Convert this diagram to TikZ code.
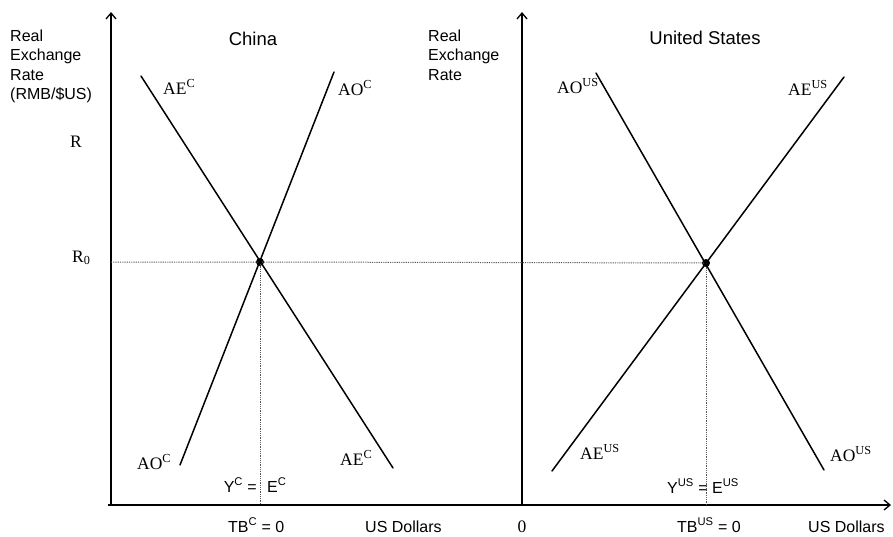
\documentclass[tikz,border=0pt]{standalone}
\usepackage{fontspec}
\setmainfont{Liberation Serif}
\newfontfamily\arialf{Liberation Sans}
\usetikzlibrary{arrows.meta}
\begin{document}
\begin{tikzpicture}[x=1pt,y=-1pt,
  curve/.style={line width=1.5pt,line cap=round},
  axis/.style={line width=1.5pt,-{Straight Barb[length=6pt,width=10pt,line width=1.3pt]}},
  guide/.style={line width=1pt,gray!70!black,dash pattern=on 0.9pt off 0.9pt},
  eq/.style={circle,fill=black,inner sep=0pt,minimum size=8pt},
  sans/.style={font=\arialf\fontsize{16}{19}\selectfont,inner sep=0pt},
  title/.style={font=\arialf\fontsize{18.5}{22}\selectfont,inner sep=0pt},
  serif/.style={font=\fontsize{17.5}{20}\selectfont,inner sep=0pt}]
\useasboundingbox (0,0) rectangle (893,536);
% axes
\coordinate (o1) at (111,505);
\coordinate (y1top) at (111,12);
\coordinate (xl) at (108,505);
\coordinate (xr) at (891,505);
\coordinate (o2) at (522,505);
\coordinate (y2top) at (522,12);
\draw[axis] (o1) -- (y1top);
\draw[axis] (o2) -- (y2top);
\draw[axis] (xl) -- (xr);
% equilibria
\node[eq] (ec) at (260,262) {};
\node[eq] (eu) at (706,263) {};
\coordinate (r0) at (111,262);
\coordinate (ecb) at (260,505);
\coordinate (eub) at (706,505);
\draw[guide] (r0) -- (ec.center) -- (eu.center);
\draw[guide] (ec.center) -- (ecb);
\draw[guide] (eu.center) -- (eub);
% China curves
\coordinate (aec1) at (141,76);
\coordinate (aec2) at (393,468);
\coordinate (aoc1) at (334,72);
\coordinate (aoc2) at (180,465);
\draw[curve] (aec1) -- (aec2);
\draw[curve] (aoc1) -- (aoc2);
% US curves
\coordinate (aou1) at (596,73);
\coordinate (aou2) at (824,470);
\coordinate (aeu1) at (844,77);
\coordinate (aeu2) at (552,471);
\draw[curve] (aou1) -- (aou2);
\draw[curve] (aeu1) -- (aeu2);
% axis texts
\node[sans,anchor=base west] (t1) at (10,41) {Real};
\node[sans,anchor=base west] (t2) at (10,60) {Exchange};
\node[sans,anchor=base west] (t3) at (10,80) {Rate};
\node[sans,anchor=base west] (t4) at (10,99) {(RMB/\$US)};
\node[sans,anchor=base west] (u1) at (428,41) {Real};
\node[sans,anchor=base west] (u2) at (428,60) {Exchange};
\node[sans,anchor=base west] (u3) at (428,80) {Rate};
\node[title,anchor=base] (china) at (253,45) {China};
\node[title,anchor=base] (us) at (705,44) {United States};
\node[serif,anchor=base] (R) at (76,147) {R};
\node[serif,anchor=base west] (R0) at (72,262) {R\textsubscript{0}};
% curve labels
\node[serif,anchor=base west] (l1) at (163,94) {AE\textsuperscript{C}};
\node[serif,anchor=base west] (l2) at (338,95) {AO\textsuperscript{C}};
\node[serif,anchor=base west] (l3) at (137,469) {AO\textsuperscript{C}};
\node[serif,anchor=base west] (l4) at (340,465) {AE\textsuperscript{C}};
\node[serif,anchor=base west] (l5) at (557,93) {AO\textsuperscript{US}};
\node[serif,anchor=base west] (l6) at (788,95) {AE\textsuperscript{US}};
\node[serif,anchor=base west] (l7) at (580,459) {AE\textsuperscript{US}};
\node[serif,anchor=base west] (l8) at (830,461) {AO\textsuperscript{US}};
% bottom labels
\node[sans,anchor=base east] (yc) at (257,492) {Y\textsuperscript{C} =};
\node[sans,anchor=base west] (ecl) at (267,492) {E\textsuperscript{C}};
\node[sans,anchor=base west] (yu) at (667,493) {Y\textsuperscript{US} = E\textsuperscript{US}};
\node[sans,anchor=base west] (tbc) at (228,532) {TB\textsuperscript{C} = 0};
\node[sans,anchor=base west] (tbu) at (677,532) {TB\textsuperscript{US} = 0};
\node[sans,anchor=base west] (usd1) at (365,532) {US Dollars};
\node[sans,anchor=base west] (usd2) at (808,532) {US Dollars};
\node[serif,anchor=base] (zero) at (522,532) {0};
\end{tikzpicture}
\end{document}
